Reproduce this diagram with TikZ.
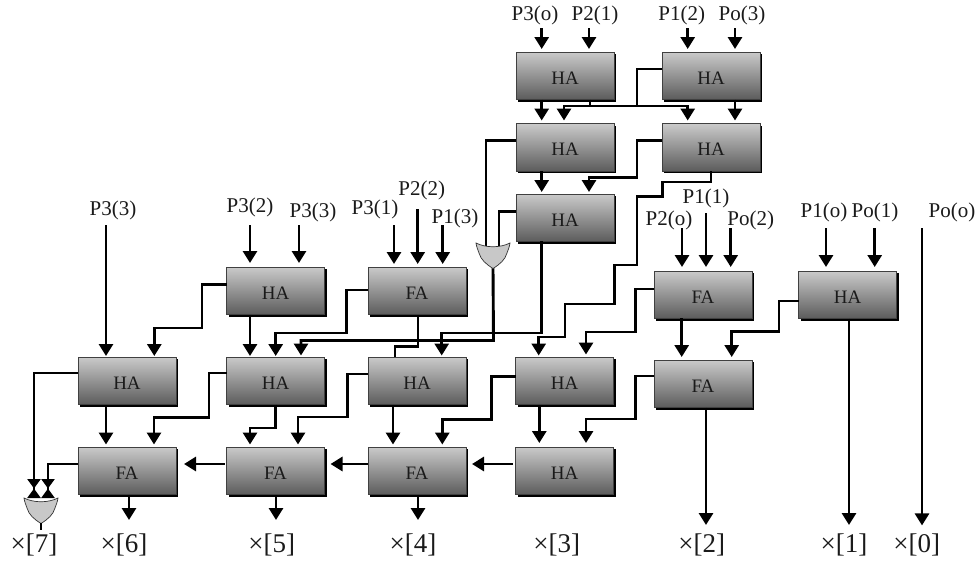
\documentclass[tikz,border=0pt]{standalone}
\usepackage{fontspec}
\setmainfont{Liberation Serif}
\usetikzlibrary{arrows.meta,calc,shadows,backgrounds}
\definecolor{boxtop}{HTML}{CACACA}
\definecolor{boxbot}{HTML}{5C5C5C}
\definecolor{gatefill}{HTML}{C8C8C8}
\definecolor{ink}{HTML}{1A1A1A}
\tikzset{
  adder/.style={rectangle,anchor=north west,minimum width=98pt,minimum height=47.5pt,inner sep=0pt,outer sep=0pt,
    top color=boxtop,bottom color=boxbot,draw=black!75,line width=.6pt,
    drop shadow={shadow xshift=2.4pt,shadow yshift=-2.4pt,fill=black,opacity=1},
    font=\fontsize{19}{19}\selectfont,text=ink,text height=16.5pt,text depth=0pt},
  inlabel/.style={inner sep=0pt,font=\fontsize{21}{21}\selectfont,text=ink},
  outlabel/.style={inner sep=0pt,font=\fontsize{27}{27}\selectfont,text=ink},
  conn/.style={line width=2.9pt,draw=black},
  arr/.style={-{Triangle[length=12pt,width=14pt]}},
  bow/.style={-{Triangle[length=9.5pt,width=13pt]Triangle[reversed,length=9.5pt,width=13pt]}},
  gateshape/.style={fill=gatefill,draw=black!80,line width=.7pt},
}
\newcommand\p[3]{($(#1.north west)+(#2,#3)$)}
\newcommand\orgate[1]{%
  \begin{scope}[shift={(#1)}]
  \draw[gateshape] (-17,0) .. controls (-7,5) and (7,5) .. (17,0)
     .. controls (16.5,4) and (15,7) .. (14,10)
     .. controls (12,17) and (7,21) .. (0,25.5)
     .. controls (-7,21) and (-12,17) .. (-14,10)
     .. controls (-15,7) and (-16.5,4) .. (-17,0) -- cycle;
  \end{scope}}
\begin{document}
\begin{tikzpicture}[x=1pt,y=-1pt]
\useasboundingbox (0,0) rectangle (979,563);
% boxes
\node[adder] (a1) at (516,52) {HA};
\node[adder] (a2) at (662,52) {HA};
\node[adder] (b1) at (516,123.5) {HA};
\node[adder] (b2) at (662,123.5) {HA};
\node[adder] (c1) at (516,194) {HA};
\node[adder] (d1) at (226.5,267) {HA};
\node[adder] (d2) at (368,267) {FA};
\node[adder] (d3) at (654,271) {FA};
\node[adder] (d4) at (798.5,271) {HA};
\node[adder] (e1) at (78,357) {HA};
\node[adder] (e2) at (226.5,357) {HA};
\node[adder] (e3) at (368,357) {HA};
\node[adder] (e4) at (515.5,357) {HA};
\node[adder] (e5) at (654,360) {FA};
\node[adder] (f1) at (78,447) {FA};
\node[adder] (f2) at (226.5,447) {FA};
\node[adder] (f3) at (368,447) {FA};
\node[adder] (f4) at (515.5,447) {HA};
% labels
\node[inlabel] (l1) at (535,15) {P3(o)};
\node[inlabel] (l2) at (595,15) {P2(1)};
\node[inlabel] (l3) at (681.7,15) {P1(2)};
\node[inlabel] (l4) at (742,15) {Po(3)};
\node[inlabel] (l5) at (113,210.7) {P3(3)};
\node[inlabel] (l6) at (250,207) {P3(2)};
\node[inlabel] (l7) at (313,212.7) {P3(3)};
\node[inlabel] (l8) at (375,209) {P3(1)};
\node[inlabel] (l9) at (421.7,190) {P2(2)};
\node[inlabel] (l10) at (455,218) {P1(3)};
\node[inlabel] (l11) at (669,220) {P2(o)};
\node[inlabel] (l12) at (706,198) {P1(1)};
\node[inlabel] (l13) at (750.7,220.7) {Po(2)};
\node[inlabel] (l14) at (824,212.7) {P1(o)};
\node[inlabel] (l15) at (875,212.7) {Po(1)};
\node[inlabel] (l16) at (952,212.7) {Po(o)};
\node[outlabel] (x7) at (34,545) {×[7]};
\node[outlabel] (x6) at (124,545) {×[6]};
\node[outlabel] (x5) at (271.7,545) {×[5]};
\node[outlabel] (x4) at (413,545) {×[4]};
\node[outlabel] (x3) at (556.7,545) {×[3]};
\node[outlabel] (x2) at (701.7,545) {×[2]};
\node[outlabel] (x1) at (844,545) {×[1]};
\node[outlabel] (x0) at (916.7,545) {×[0]};
% named free ends
\coordinate (g1) at (493,243);
\coordinate (g1o) at (493,268);
\coordinate (g2) at (41,498);
\coordinate (g2o) at (41,523);
\coordinate (ja) at (590,106);
% inputs, top
\draw[conn,arr] \p{a1}{25.7}{-24} -- \p{a1}{25.7}{-3};
\draw[conn,arr] \p{a1}{73}{-24} -- \p{a1}{73}{-3};
\draw[conn,arr] \p{a2}{25.7}{-24} -- \p{a2}{25.7}{-3};
\draw[conn,arr] \p{a2}{73}{-24} -- \p{a2}{73}{-3};
% inputs, middle
\draw[conn,arr] \p{e1}{28}{-132} -- \p{e1}{28}{-1};
\draw[conn,arr] \p{d1}{23.5}{-42} -- \p{d1}{23.5}{-4};
\draw[conn,arr] \p{d1}{72.5}{-42} -- \p{d1}{72.5}{-4};
\draw[conn,arr] \p{d2}{26}{-42} -- \p{d2}{26}{-3};
\draw[conn,arr] \p{d2}{49.7}{-58} -- \p{d2}{49.7}{-3};
\draw[conn,arr] \p{d2}{74.7}{-42} -- \p{d2}{74.7}{-3};
\draw[conn,arr] \p{d3}{28}{-43} -- \p{d3}{28}{-4};
\draw[conn,arr] \p{d3}{52}{-58} -- \p{d3}{52}{-4};
\draw[conn,arr] \p{d3}{76.7}{-43} -- \p{d3}{76.7}{-4};
\draw[conn,arr] \p{d4}{27.5}{-43} -- \p{d4}{27.5}{-4};
\draw[conn,arr] \p{d4}{76.2}{-43} -- \p{d4}{76.2}{-4};
% top block
\draw[conn,arr] \p{a1}{25.7}{47.5} -- \p{b1}{25.7}{-3};
\draw[conn] \p{a1}{74}{47.5} -- (ja);
\draw[conn,arr] (ja) -| \p{b1}{48}{-3};
\draw[conn,arr] (ja) -| \p{b2}{25.7}{-3};
\draw[conn] \p{a2}{0}{17} -| (637,106);
\draw[conn,arr] \p{a2}{73}{47.5} -- \p{b2}{73}{-3};
\draw[conn,arr] \p{b1}{25.7}{47.5} -- \p{c1}{25.7}{-2};
\draw[conn,arr] \p{b2}{0}{17} -- (637,140.5) -- (637,177.5) -- (589,177.5) -- \p{c1}{73}{-2};
\draw[conn] \p{b1}{0}{17} -| ($(g1)+(-7,3)$);
\draw[conn] \p{c1}{0}{17.5} -| ($(g1)+(6,3)$);
\draw[conn,arr] \p{b2}{49}{47.5} -- (711,182) -- (662.7,182) -- (662.7,196.7) -- (637,196.7) -- (637,265) -- (614.5,265) -- (614.5,304) -- (565,304) -- (565,337) -- \p{e4}{23.2}{-20} -- \p{e4}{23.2}{-1.5};
\draw[conn,arr] \p{c1}{25.2}{47} -- (541.2,333) -- (441.7,333) -- \p{e3}{73.7}{-1.5};
% gate 1 to HA e2
\draw[conn,arr] (g1o) -- (493.5,340.5) -- (301,340.5) -- \p{e2}{74.5}{-1.5};
% middle row
\draw[conn,arr] \p{d1}{0}{17.3} -- (202,284.3) -- (202,328) -- (154.3,328) -- \p{e1}{76.3}{-1};
\draw[conn,arr] \p{d1}{23.5}{47.5} -- \p{e2}{23.5}{-1};
\draw[conn,arr] \p{d2}{0}{23} -- (346.7,290) -- (346.7,333) -- (275.7,333) -- \p{e2}{49.2}{-1};
\begin{scope}[on background layer]
\draw[conn,arr] \p{d2}{50}{47.5} -- (418,346.7) -- (395,346.7) -- \p{e3}{27}{12};
\end{scope}
\draw[conn,arr] \p{d3}{0}{18} -- (635.7,289) -- (635.7,332) -- (586,332) -- \p{e4}{70.5}{-2.5};
\draw[conn,arr] \p{d3}{27.7}{47} -- \p{e5}{27.7}{-3};
\draw[conn,arr] \p{d4}{0}{30} -- (779,301) -- (779,331.7) -- (731.7,331.7) -- \p{e5}{77.7}{-3};
% lower rows
\draw[conn,arr] \p{e1}{28}{48.5} -- \p{f1}{28}{-2.5};
\draw[conn,arr] \p{e2}{0}{16} -- (209,373) -- (209,417.7) -- (154,417.7) -- \p{f1}{76}{-2.5};
\draw[conn,arr] \p{e2}{48.8}{47.5} -- (275.3,428) -- (250,428) -- \p{f2}{23.5}{-2.5};
\draw[conn,arr] \p{e3}{0}{17} -- (347.7,374) -- (347.7,417) -- (298,417) -- \p{f2}{71.5}{-2.5};
\draw[conn,arr] \p{e3}{25}{47.5} -- \p{f3}{25}{-2.5};
\draw[conn,arr] \p{e4}{0}{19.7} -- (491.7,376.7) -- (491.7,419.3) -- (442.3,419.3) -- \p{f3}{74.3}{-2.5};
\draw[conn,arr] \p{e4}{23.8}{48} -- \p{f4}{23.8}{-4};
\draw[conn,arr] \p{e5}{0}{16} -- (635.7,376) -- (635.7,419) -- (586,419) -- \p{f4}{70.5}{-4};
% bottom horizontal
\draw[conn,arr] \p{f4}{-3}{17} -- ($(f3.north east)+(6,17)$);
\draw[conn,arr] \p{f3}{0}{17} -- ($(f2.north east)+(6,17)$);
\draw[conn,arr] \p{f2}{-2}{17} -- ($(f1.north east)+(8,17)$);
% outputs
\draw[conn,arr] \p{f1}{51}{49} -- \p{f1}{51}{73};
\draw[conn,arr] \p{f2}{49.5}{49} -- \p{f2}{49.5}{73};
\draw[conn,arr] \p{f3}{50}{49} -- \p{f3}{50}{73};
\draw[conn,arr] \p{e5}{52}{47.5} -- \p{e5}{52}{165};
\draw[conn,arr] \p{d4}{50.5}{47.5} -- \p{d4}{50.5}{254};
\draw[conn,arr] ($(l16.south)+(-30,6)$) -- ($(l16.south)+(-30,303)$);
% gate 2 inputs
\draw[conn,bow] \p{e1}{0}{16} -| (34,498);
\draw[conn,bow] \p{f1}{0}{17} -| (48,498);
% gates
\orgate{g1}
\orgate{g2}
\draw[line width=2.4pt] (g2o) -- (41,530);
\end{tikzpicture}
\end{document}
